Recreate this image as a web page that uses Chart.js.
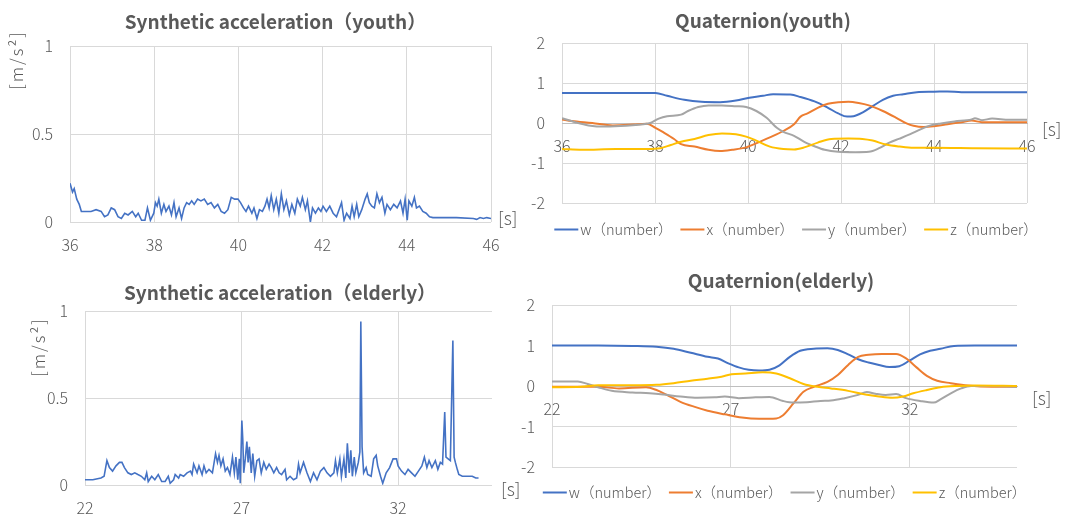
<!DOCTYPE html>
<html>
<head>
<meta charset="utf-8">
<script src="https://cdn.jsdelivr.net/npm/chart.js@4.4.1/dist/chart.umd.min.js"></script>
<style>
  html, body { margin: 0; padding: 0; background: #ffffff; }
  #wrap { position: relative; width: 1067px; height: 518px; overflow: hidden; background: #ffffff; }
  canvas { position: absolute; }
</style>
</head>
<body>
<div id="wrap">
  <canvas id="c1" width="533" height="259" style="left:0px;top:0px"></canvas>
  <canvas id="c3" width="533" height="259" style="left:0px;top:259px"></canvas>
  <canvas id="c2" width="587" height="259" style="left:480px;top:0px"></canvas>
  <canvas id="c4" width="587" height="259" style="left:480px;top:259px"></canvas>
</div>
<script>
// ---------------- DATA ----------------
const titles = {
  accYouth: 'Synthetic acceleration（youth）',
  quatYouth: 'Quaternion(youth)',
  accElderly: 'Synthetic acceleration（elderly）',
  quatElderly: 'Quaternion(elderly)'
};
const seriesLabels = ['w（number）', 'x（number）', 'y（number）', 'z（number）'];
const accLabel = 'Synthetic acceleration';
const xUnitLabel = '[s]';
const yUnitLabel = '[m/s²]';

const xTicksYouth = [36, 38, 40, 42, 44, 46];
const xTicksElderly = [22, 27, 32];
const yTicksAcc = [0, 0.5, 1];
const yTicksQuat = [-2, -1, 0, 1, 2];

// [time s, value m/s²]
const accYouth = [[36.00,0.22],[36.06,0.17],[36.10,0.19],[36.16,0.13],[36.22,0.10],[36.27,0.06],[36.38,0.06],[36.50,0.06],[36.62,0.07],[36.74,0.06],[36.82,0.03],[36.90,0.04],[36.98,0.08],[37.06,0.07],[37.14,0.03],[37.22,0.02],[37.30,0.05],[37.38,0.04],[37.48,0.06],[37.56,0.03],[37.62,0.05],[37.70,0.01],[37.78,0.01],[37.84,0.08],[37.91,0.01],[37.99,0.05],[38.03,0.11],[38.07,0.09],[38.11,0.13],[38.17,0.05],[38.23,0.10],[38.28,0.06],[38.35,0.09],[38.41,0.04],[38.47,0.11],[38.52,0.03],[38.59,0.08],[38.65,0.02],[38.71,0.08],[38.77,0.11],[38.83,0.10],[38.89,0.12],[38.95,0.10],[39.03,0.13],[39.11,0.12],[39.19,0.13],[39.27,0.10],[39.35,0.11],[39.43,0.08],[39.51,0.10],[39.59,0.06],[39.67,0.05],[39.75,0.07],[39.83,0.14],[39.91,0.13],[39.99,0.13],[40.05,0.11],[40.12,0.08],[40.18,0.06],[40.24,0.09],[40.32,0.05],[40.37,0.08],[40.44,0.02],[40.50,0.07],[40.57,0.06],[40.63,0.09],[40.68,0.13],[40.73,0.08],[40.78,0.15],[40.84,0.07],[40.90,0.13],[40.96,0.05],[41.02,0.16],[41.08,0.07],[41.14,0.12],[41.21,0.04],[41.27,0.10],[41.34,0.05],[41.40,0.13],[41.47,0.09],[41.52,0.14],[41.59,0.07],[41.64,0.12],[41.71,0.00],[41.76,0.08],[41.83,0.05],[41.90,0.08],[41.96,0.06],[42.01,0.09],[42.09,0.06],[42.17,0.09],[42.25,0.05],[42.33,0.03],[42.39,0.07],[42.45,0.11],[42.51,0.01],[42.57,0.05],[42.65,0.02],[42.70,0.09],[42.75,0.03],[42.81,0.10],[42.86,0.03],[42.93,0.07],[43.01,0.13],[43.06,0.16],[43.11,0.11],[43.17,0.09],[43.23,0.08],[43.29,0.16],[43.35,0.11],[43.41,0.14],[43.48,0.05],[43.53,0.10],[43.61,0.07],[43.69,0.10],[43.77,0.08],[43.85,0.12],[43.91,0.05],[43.96,0.13],[44.01,0.01],[44.05,0.12],[44.12,0.09],[44.18,0.14],[44.23,0.08],[44.30,0.09],[44.38,0.06],[44.46,0.05],[44.54,0.03],[44.62,0.025],[44.78,0.025],[45.18,0.025],[45.58,0.02],[45.66,0.015],[45.74,0.025],[45.82,0.02],[45.90,0.025],[46.00,0.02]];

const accElderly = [[22.00,0.03],[22.25,0.03],[22.51,0.04],[22.61,0.05],[22.70,0.14],[22.78,0.10],[22.88,0.08],[22.99,0.11],[23.10,0.13],[23.18,0.13],[23.26,0.10],[23.37,0.07],[23.48,0.06],[23.59,0.07],[23.69,0.06],[23.80,0.05],[23.91,0.03],[23.97,0.07],[24.02,0.02],[24.13,0.05],[24.23,0.03],[24.34,0.06],[24.45,0.02],[24.56,0.02],[24.66,0.05],[24.72,0.01],[24.83,0.03],[24.88,0.06],[24.99,0.04],[25.04,0.06],[25.15,0.05],[25.26,0.07],[25.37,0.08],[25.42,0.06],[25.47,0.12],[25.58,0.07],[25.64,0.11],[25.74,0.06],[25.80,0.11],[25.87,0.07],[25.96,0.09],[26.07,0.07],[26.17,0.18],[26.23,0.13],[26.28,0.17],[26.34,0.11],[26.41,0.15],[26.48,0.08],[26.55,0.10],[26.63,0.06],[26.71,0.16],[26.77,0.07],[26.82,0.16],[26.88,0.03],[26.93,0.15],[26.96,0.01],[27.01,0.37],[27.04,0.26],[27.07,0.07],[27.12,0.15],[27.17,0.25],[27.21,0.13],[27.25,0.22],[27.31,0.07],[27.36,0.18],[27.42,0.05],[27.49,0.14],[27.56,0.15],[27.63,0.07],[27.71,0.13],[27.79,0.09],[27.88,0.12],[27.95,0.10],[28.03,0.07],[28.12,0.10],[28.20,0.07],[28.28,0.06],[28.39,0.09],[28.44,0.03],[28.55,0.05],[28.66,0.03],[28.76,0.04],[28.82,0.12],[28.87,0.07],[28.98,0.13],[29.09,0.07],[29.20,0.02],[29.30,0.07],[29.41,0.03],[29.52,0.08],[29.63,0.10],[29.73,0.07],[29.84,0.05],[29.95,0.07],[30.00,0.14],[30.06,0.07],[30.14,0.15],[30.19,0.05],[30.27,0.15],[30.33,0.04],[30.38,0.24],[30.44,0.07],[30.49,0.20],[30.54,0.05],[30.60,0.16],[30.65,0.07],[30.73,0.13],[30.78,0.19],[30.81,0.94],[30.85,0.22],[30.90,0.07],[30.98,0.10],[31.03,0.06],[31.14,0.05],[31.22,0.15],[31.30,0.17],[31.35,0.11],[31.44,0.05],[31.51,0.01],[31.62,0.07],[31.73,0.10],[31.84,0.15],[31.95,0.15],[32.00,0.11],[32.11,0.08],[32.22,0.06],[32.32,0.09],[32.43,0.07],[32.54,0.05],[32.65,0.08],[32.76,0.11],[32.84,0.16],[32.92,0.10],[32.99,0.14],[33.08,0.10],[33.19,0.14],[33.27,0.09],[33.35,0.13],[33.42,0.12],[33.49,0.42],[33.53,0.16],[33.60,0.15],[33.67,0.14],[33.75,0.83],[33.79,0.16],[33.83,0.13],[33.89,0.09],[33.94,0.06],[34.05,0.05],[34.16,0.05],[34.27,0.05],[34.37,0.05],[34.48,0.04],[34.57,0.04]];

// quaternion components (youth), [time s, value]
const quatYouthW = [[36.00,0.75],[37.00,0.75],[38.01,0.75],[38.26,0.68],[38.63,0.58],[39.00,0.53],[39.40,0.52],[39.74,0.56],[40.03,0.63],[40.32,0.68],[40.54,0.72],[40.91,0.71],[41.13,0.65],[41.43,0.54],[41.72,0.38],[41.94,0.24],[42.13,0.16],[42.27,0.17],[42.46,0.26],[42.68,0.42],[42.90,0.58],[43.12,0.68],[43.34,0.72],[43.63,0.77],[44.00,0.78],[44.29,0.79],[44.59,0.77],[44.88,0.77],[45.25,0.77],[46.00,0.77]];
const quatYouthX = [[36.00,0.09],[36.21,0.05],[36.65,0.00],[37.09,-0.06],[37.53,-0.04],[37.82,-0.02],[38.01,-0.12],[38.19,-0.24],[38.41,-0.40],[38.56,-0.53],[38.85,-0.59],[39.15,-0.67],[39.40,-0.70],[39.66,-0.67],[39.96,-0.61],[40.25,-0.47],[40.47,-0.36],[40.76,-0.20],[40.99,-0.03],[41.13,0.16],[41.28,0.24],[41.50,0.38],[41.72,0.48],[41.94,0.52],[42.16,0.53],[42.38,0.50],[42.60,0.44],[42.90,0.30],[43.19,0.13],[43.41,-0.01],[43.56,-0.07],[43.78,-0.10],[44.00,-0.08],[44.29,-0.03],[44.59,0.02],[44.81,0.06],[45.03,0.02],[45.32,0.02],[46.00,0.02]];
const quatYouthY = [[36.00,0.12],[36.28,0.02],[36.57,-0.06],[36.94,-0.09],[37.38,-0.07],[37.75,-0.03],[37.90,0.00],[38.08,0.11],[38.26,0.17],[38.56,0.21],[38.71,0.30],[38.93,0.40],[39.15,0.44],[39.44,0.44],[39.74,0.42],[39.96,0.40],[40.18,0.30],[40.40,0.13],[40.62,-0.12],[40.76,-0.22],[40.99,-0.32],[41.21,-0.47],[41.43,-0.58],[41.65,-0.67],[41.94,-0.72],[42.31,-0.73],[42.60,-0.72],[42.82,-0.63],[43.04,-0.49],[43.26,-0.39],[43.49,-0.28],[43.71,-0.16],[43.93,-0.06],[44.15,-0.01],[44.44,0.04],[44.81,0.09],[44.88,0.12],[45.03,0.07],[45.25,0.11],[45.62,0.08],[46.00,0.08]];
const quatYouthZ = [[36.00,-0.65],[36.43,-0.67],[37.16,-0.65],[37.82,-0.65],[38.12,-0.63],[38.34,-0.55],[38.56,-0.47],[38.85,-0.40],[39.15,-0.30],[39.44,-0.26],[39.74,-0.28],[39.96,-0.34],[40.18,-0.44],[40.47,-0.59],[40.76,-0.65],[40.99,-0.66],[41.21,-0.61],[41.50,-0.49],[41.79,-0.40],[42.16,-0.39],[42.46,-0.40],[42.68,-0.44],[42.97,-0.54],[43.26,-0.59],[43.56,-0.62],[44.00,-0.62],[44.88,-0.63],[46.00,-0.64]];

// quaternion components (elderly), [time s, value]
const quatElderlyW = [[22.00,1.00],[23.29,1.00],[24.25,0.99],[24.92,0.97],[25.40,0.92],[25.88,0.82],[26.35,0.72],[26.64,0.68],[26.93,0.56],[27.22,0.46],[27.50,0.40],[27.79,0.38],[28.08,0.40],[28.36,0.51],[28.65,0.72],[28.94,0.87],[29.32,0.92],[29.70,0.93],[29.99,0.89],[30.28,0.78],[30.56,0.66],[30.85,0.58],[31.14,0.52],[31.43,0.47],[31.71,0.49],[32.00,0.63],[32.29,0.78],[32.57,0.87],[32.86,0.92],[33.24,0.99],[33.82,1.00],[35.00,1.00]];
const quatElderlyX = [[22.00,-0.02],[23.29,-0.02],[23.87,-0.06],[24.63,-0.03],[24.92,-0.10],[25.21,-0.22],[25.59,-0.39],[25.97,-0.51],[26.35,-0.61],[26.83,-0.70],[27.31,-0.78],[27.79,-0.81],[28.27,-0.80],[28.46,-0.72],[28.75,-0.43],[29.03,-0.14],[29.32,-0.02],[29.70,0.10],[29.99,0.27],[30.28,0.52],[30.56,0.72],[30.85,0.77],[31.23,0.79],[31.62,0.79],[31.90,0.68],[32.19,0.46],[32.48,0.25],[32.77,0.13],[33.15,0.07],[33.63,0.01],[34.30,-0.02],[35.00,-0.02]];
const quatElderlyY = [[22.00,0.11],[22.72,0.11],[23.00,0.05],[23.29,-0.03],[23.67,-0.12],[24.25,-0.16],[24.73,-0.18],[25.11,-0.21],[25.59,-0.26],[26.07,-0.29],[26.55,-0.28],[26.83,-0.26],[27.22,-0.30],[27.69,-0.28],[28.08,-0.27],[28.46,-0.37],[28.75,-0.41],[29.13,-0.40],[29.51,-0.37],[29.80,-0.36],[30.18,-0.30],[30.56,-0.22],[30.80,-0.15],[31.04,-0.19],[31.33,-0.22],[31.62,-0.20],[31.90,-0.30],[32.29,-0.37],[32.67,-0.41],[32.86,-0.33],[33.15,-0.18],[33.44,-0.06],[33.72,0.00],[34.30,0.00],[35.00,-0.02]];
const quatElderlyZ = [[22.00,-0.03],[22.81,-0.02],[23.29,0.02],[24.25,0.02],[24.92,0.03],[25.40,0.07],[25.88,0.13],[26.35,0.18],[26.74,0.23],[27.02,0.29],[27.41,0.31],[27.89,0.34],[28.27,0.31],[28.65,0.19],[29.03,0.05],[29.42,-0.02],[29.80,-0.06],[30.28,-0.12],[30.76,-0.21],[31.14,-0.26],[31.52,-0.29],[31.81,-0.26],[32.10,-0.18],[32.48,-0.10],[32.86,-0.03],[33.34,0.00],[33.82,0.01],[35.00,0.00]];

// ---------------- STYLE / HELPERS ----------------
const FONT = '"Noto Sans CJK JP", "Noto Sans", sans-serif';
const TEXT = '#595959';
const GRID = '#D9D9D9';
const COLORS = ['#4472C4', '#ED7D31', '#A5A5A5', '#FFC000'];

Chart.defaults.font.family = FONT;
Chart.defaults.color = TEXT;

const toXY = pairs => pairs.map(p => ({ x: p[0], y: p[1] }));
const setTicks = list => scale => { scale.ticks = list.map(v => ({ value: v })); };

const excelExtras = {
  id: 'excelExtras',
  afterDraw(chart, args, opts) {
    const { ctx, chartArea: a } = chart;
    ctx.save();
    ctx.fillStyle = TEXT;
    if (opts.xUnit) {
      const baseY = opts.xUnit.atZero ? chart.scales.y.getPixelForValue(0) : a.bottom;
      ctx.font = '300 18px ' + FONT;
      ctx.textAlign = 'left';
      ctx.textBaseline = 'middle';
      ctx.fillText(opts.xUnit.text, a.right + opts.xUnit.dx, baseY + opts.xUnit.dy);
    }
    if (opts.yUnit) {
      ctx.save();
      ctx.translate(a.left + opts.yUnit.dx, a.top + opts.yUnit.dy);
      ctx.rotate(-Math.PI / 2);
      ctx.font = '300 17px ' + FONT;
      ctx.textAlign = 'center';
      ctx.textBaseline = 'middle';
      try { ctx.letterSpacing = '2px'; } catch (e) {}
      ctx.fillText(opts.yUnit.text, 0, 0);
      ctx.restore();
    }
    if (opts.legend) {
      const items = chart.data.datasets.map(ds => ({ text: ds.label, color: ds.borderColor }));
      ctx.font = '300 14.5px ' + FONT;
      ctx.textAlign = 'left';
      ctx.textBaseline = 'middle';
      const lineW = 24, gap = 2, spacing = 8;
      const widths = items.map(it => lineW + gap + ctx.measureText(it.text).width);
      const total = widths.reduce((s, w) => s + w, 0) + spacing * (items.length - 1);
      let x = (a.left + a.right) / 2 + opts.legend.dx - total / 2;
      const y = a.bottom + opts.legend.dy;
      items.forEach((it, i) => {
        ctx.strokeStyle = it.color;
        ctx.lineWidth = 2;
        ctx.beginPath();
        ctx.moveTo(x, y + 0.5);
        ctx.lineTo(x + lineW, y + 0.5);
        ctx.stroke();
        ctx.fillStyle = TEXT;
        ctx.fillText(it.text, x + lineW + gap, y);
        x += widths[i] + spacing;
      });
    }
    ctx.restore();
  }
};

function tickFont() { return { size: 16, weight: '300', family: FONT }; }
const plainLabel = v => String(v);

function makeChart(id, o) {
  const xScale = {
    type: 'linear',
    min: o.xMin, max: o.xMax,
    afterBuildTicks: setTicks(o.xTicks),
    grid: { color: GRID, lineWidth: 1, drawTicks: false },
    border: { display: !!o.zeroAxis, color: '#BFBFBF' },
    ticks: { padding: 13, font: tickFont(), color: TEXT, maxRotation: 0, autoSkip: false, callback: plainLabel }
  };
  if (o.zeroAxis) {
    xScale.position = { y: 0 };
  } else {
    xScale.position = 'bottom';
    xScale.afterFit = s => { s.height = o.hx; };
  }
  const yScale = {
    type: 'linear',
    position: 'left',
    min: o.yMin, max: o.yMax,
    afterBuildTicks: setTicks(o.yTicks),
    afterFit: s => { s.width = o.wy; },
    grid: { color: GRID, lineWidth: 1, drawTicks: false },
    border: { display: false },
    ticks: { padding: 17, font: tickFont(), color: TEXT, callback: plainLabel }
  };
  const scales = { x: xScale, y: yScale };
  if (o.rightGap) {
    // empty right-hand box that only reserves space (keeps the title centred like the original)
    scales.gapRight = {
      type: 'linear', position: 'right', display: true,
      grid: { display: false, drawTicks: false }, border: { display: false },
      ticks: { display: false },
      afterFit: s => { s.width = o.rightGap; }
    };
  }
  return new Chart(document.getElementById(id), {
    type: 'line',
    data: { datasets: o.datasets },
    options: {
      responsive: false,
      animation: false,
      events: [],
      layout: { padding: o.padding },
      elements: { point: { radius: 0 } },
      scales,
      plugins: {
        legend: { display: false },
        tooltip: { enabled: false },
        title: {
          display: true,
          text: o.title,
          color: TEXT,
          font: { size: 19, weight: 'bold', lineHeight: 1.2, family: FONT },
          padding: { top: 0, bottom: o.titleGap }
        },
        excelExtras: o.extras
      }
    },
    plugins: [excelExtras]
  });
}

function accDataset(pairs) {
  return [{
    label: accLabel,
    data: toXY(pairs),
    borderColor: COLORS[0],
    backgroundColor: COLORS[0],
    borderWidth: 1.6,
    tension: 0,
    fill: false
  }];
}
function quatDatasets(list) {
  return list.map((pairs, i) => ({
    label: seriesLabels[i],
    data: toXY(pairs),
    borderColor: COLORS[i],
    backgroundColor: COLORS[i],
    borderWidth: 2,
    cubicInterpolationMode: 'monotone',
    fill: false,
    order: list.length - i
  }));
}

// title line: 19px * 1.2 = 22.8 px tall
// Panel 1: synthetic acceleration (youth)
makeChart('c1', {
  title: titles.accYouth,
  datasets: accDataset(accYouth),
  xMin: 36, xMax: 46, xTicks: xTicksYouth,
  yMin: 0, yMax: 1, yTicks: yTicksAcc,
  padding: { left: 25, right: 7, top: 10.6, bottom: 7 },
  wy: 45, hx: 30, rightGap: 35, titleGap: 12.6,
  extras: { xUnit: { text: xUnitLabel, dx: 7, dy: -3.5 }, yUnit: { text: yUnitLabel, dx: -53, dy: 14 } }
});

// Panel 2: quaternion (youth)
makeChart('c2', {
  title: titles.quatYouth,
  datasets: quatDatasets([quatYouthW, quatYouthX, quatYouthY, quatYouthZ]),
  xMin: 36, xMax: 46, xTicks: xTicksYouth,
  yMin: -2, yMax: 2, yTicks: yTicksQuat,
  zeroAxis: true,
  padding: { left: 19, right: 40, top: 9.6, bottom: 56 },
  wy: 63, titleGap: 10.6,
  extras: { xUnit: { text: xUnitLabel, dx: 15, dy: 6, atZero: true }, legend: { dx: 1.5, dy: 26 } }
});

// Panel 3: synthetic acceleration (elderly)
makeChart('c3', {
  title: titles.accElderly,
  datasets: accDataset(accElderly),
  xMin: 22, xMax: 35, xTicks: xTicksElderly,
  yMin: 0, yMax: 1, yTicks: yTicksAcc,
  padding: { left: 40, right: 13, top: 22.6, bottom: 0 },
  wy: 45, hx: 33, rightGap: 28, titleGap: 6.6,
  extras: { xUnit: { text: xUnitLabel, dx: 9, dy: 4 }, yUnit: { text: yUnitLabel, dx: -46, dy: 36 } }
});

// Panel 4: quaternion (elderly)
makeChart('c4', {
  title: titles.quatElderly,
  datasets: quatDatasets([quatElderlyW, quatElderlyX, quatElderlyY, quatElderlyZ]),
  xMin: 22, xMax: 35, xTicks: xTicksElderly,
  yMin: -2, yMax: 2, yTicks: yTicksQuat,
  zeroAxis: true,
  padding: { left: 27, right: 12, top: 10.6, bottom: 51 },
  wy: 45, rightGap: 38, titleGap: 12.6,
  extras: { xUnit: { text: xUnitLabel, dx: 15, dy: 12, atZero: true }, legend: { dx: 0, dy: 25 } }
});
</script>
</body>
</html>
